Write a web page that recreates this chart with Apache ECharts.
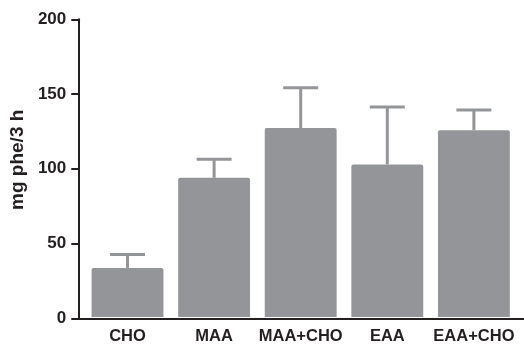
<!DOCTYPE html>
<html>
<head>
<meta charset="utf-8">
<script src="https://cdn.jsdelivr.net/npm/echarts@6/dist/echarts.min.js"></script>
<style>
  html, body { margin: 0; padding: 0; background: #fff; }
  #chart { width: 524px; height: 345px; }
</style>
</head>
<body>
<div id="chart"></div>
<script>
// Phenylalanine uptake per group (mean and upper SD)
const categories = ['CHO', 'MAA', 'MAA+CHO', 'EAA', 'EAA+CHO'];
const means = [33, 93.5, 127, 102.5, 125.5];
const sds = [9, 12.5, 27, 38.5, 13.5];
const yTicks = [0, 50, 100, 150, 200];

const FONT = '"Liberation Sans", Arial, Helvetica, sans-serif';
const BAR = '#939598';
const INK = '#231f20';

const chart = echarts.init(document.getElementById('chart'), null, { renderer: 'canvas' });

const gridTop = 19.3, gridBottom = 345 - 318.3;

chart.setOption({
  animation: false,
  backgroundColor: '#fff',
  grid: [
    // axes frame: spans the full width
    { left: 75, right: 0, top: gridTop, bottom: gridBottom, containLabel: false },
    // bars
    { left: 84.2, right: 6.8, top: gridTop, bottom: gridBottom, containLabel: false }
  ],
  xAxis: [
    {
      gridIndex: 0, type: 'value', min: 0, max: 1,
      axisLine: { show: true, onZero: false, lineStyle: { color: INK, width: 2 } },
      axisTick: { show: false }, axisLabel: { show: false }, splitLine: { show: false }
    },
    {
      gridIndex: 1, type: 'category', data: categories,
      axisLine: { show: false }, axisTick: { show: false }, splitLine: { show: false },
      axisLabel: { interval: 0, color: INK, fontFamily: FONT, fontWeight: 'bold', fontSize: 16.5, margin: 11 }
    }
  ],
  yAxis: [
    {
      gridIndex: 0, type: 'value', min: yTicks[0], max: yTicks[yTicks.length - 1], interval: 50,
      name: 'mg phe/3 h', nameLocation: 'middle', nameGap: 40, nameRotate: 90,
      nameTextStyle: { color: INK, fontFamily: FONT, fontWeight: 'bold', fontSize: 19, padding: [0, 0, 0, 18] },
      axisLine: { show: true, lineStyle: { color: INK, width: 2 } },
      axisTick: { show: true, length: 7, lineStyle: { color: INK, width: 2 } },
      axisLabel: { color: INK, fontFamily: FONT, fontWeight: 'bold', fontSize: 17, margin: 12 },
      splitLine: { show: false }
    },
    {
      gridIndex: 1, type: 'value', min: yTicks[0], max: yTicks[yTicks.length - 1],
      show: false, splitLine: { show: false }
    }
  ],
  series: [
    {
      type: 'custom',
      xAxisIndex: 1, yAxisIndex: 1,
      z: 1,
      data: means.map((m, i) => [i, m, m + sds[i]]),
      renderItem: function (params, api) {
        const i = api.value(0);
        const base = api.coord([i, api.value(1)]);
        const tip = api.coord([i, api.value(2)]);
        const half = 17.5;
        const style = { stroke: BAR, lineWidth: 3 };
        return {
          type: 'group',
          children: [
            { type: 'line', shape: { x1: base[0], y1: base[1], x2: tip[0], y2: tip[1] }, style: style },
            { type: 'line', shape: { x1: tip[0] - half, y1: tip[1], x2: tip[0] + half, y2: tip[1] }, style: style }
          ]
        };
      }
    },
    {
      type: 'bar',
      xAxisIndex: 1, yAxisIndex: 1,
      z: 2,
      data: means,
      barCategoryGap: '17%',
      itemStyle: { color: BAR, borderRadius: [2, 2, 0, 0] }
    }
  ]
});
</script>
</body>
</html>
